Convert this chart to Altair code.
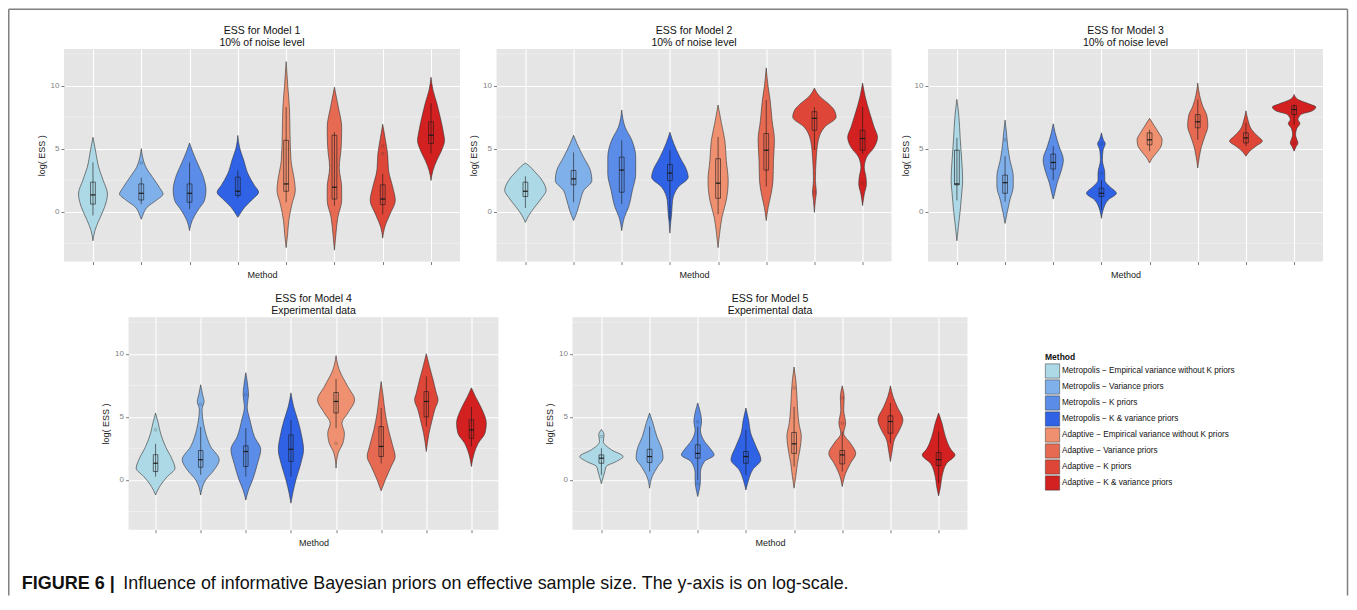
import altair as alt
import pandas as pd

FONT = "Liberation Sans"

METHODS = [
    "Metropolis − Empirical variance without K priors",
    "Metropolis − Variance priors",
    "Metropolis − K priors",
    "Metropolis − K & variance priors",
    "Adaptive − Empirical variance without K priors",
    "Adaptive − Variance priors",
    "Adaptive − K priors",
    "Adaptive − K & variance priors",
]
COLORS = ["#ADD8E6", "#80B0EA", "#5B8DE8", "#2F62E5",
          "#EF9070", "#E66A52", "#DE4638", "#D32020"]

TITLES = [
    ["ESS for Model 1", "10% of noise level"],
    ["ESS for Model 2", "10% of noise level"],
    ["ESS for Model 3", "10% of noise level"],
    ["ESS for Model 4", "Experimental data"],
    ["ESS for Model 5", "Experimental data"],
]
Y_TICKS = [0, 5, 10]
MINOR_Y = [-2.5, 2.5, 7.5, 12.5]
X_TICKS = [1, 2, 3, 4, 5, 6, 7, 8]

# ---- Model 1: violin profiles (log ESS level, half width in category units)
P1_Y = [
    [5.9, 4.9, 3.5, 2.5, 1.4, 0.35, -0.7, -1.5, -2.3],
    [5.0, 4.3, 3.5, 2.7, 1.9, 1.4, 0.9, 0.35, -0.2, -0.6],
    [5.45, 4.7, 3.8, 2.7, 1.7, 0.9, 0.1, -0.7, -1.5],
    [6.05, 5.1, 4.1, 3.0, 2.1, 1.55, 1.0, 0.35, -0.2, -0.45],
    [11.9, 9.9, 8.1, 6.2, 4.1, 2.5, 1.7, 0.6, -0.7, -1.8, -2.85],
    [9.87, 8.3, 6.7, 5.1, 3.5, 1.9, 0.9, -0.45, -1.8, -3.05],
    [6.94, 5.7, 4.6, 3.3, 1.9, 0.9, -0.2, -1.25, -2.1],
    [10.66, 9.65, 8.6, 7.5, 6.2, 5.66, 4.87, 4.07, 3.27, 2.47],
]
P1_W = [
    [0, 0.05, 0.12, 0.21, 0.30, 0.24, 0.12, 0.04, 0],
    [0, 0.03, 0.10, 0.24, 0.38, 0.45, 0.31, 0.12, 0.04, 0],
    [0, 0.07, 0.17, 0.29, 0.34, 0.31, 0.17, 0.055, 0],
    [0, 0.035, 0.12, 0.21, 0.34, 0.43, 0.31, 0.14, 0.04, 0],
    [0, 0.035, 0.07, 0.08, 0.10, 0.17, 0.19, 0.12, 0.055, 0.03, 0],
    [0, 0.08, 0.15, 0.14, 0.10, 0.15, 0.15, 0.07, 0.03, 0],
    [0, 0.055, 0.10, 0.12, 0.21, 0.26, 0.15, 0.04, 0],
    [0, 0.04, 0.12, 0.19, 0.26, 0.28, 0.22, 0.12, 0.04, 0],
]
# box: whisker low, q1, median, q3, whisker high
P1_BOX = [
    [-0.3, 0.6, 1.33, 2.34, 3.9], [0.6, 0.93, 1.46, 2.2, 2.7],
    [0.2, 0.75, 1.46, 2.2, 3.9], [1.1, 1.28, 1.62, 2.74, 3.27],
    [0.75, 1.62, 2.2, 5.66, 8.3], [0.48, 1.0, 1.94, 6.06, 6.3],
    [-0.2, 0.56, 1.0, 2.13, 3.0], [4.6, 5.4, 6.06, 7.13, 8.6],
]
P1_OUT_M = [2, 7, 7]
P1_OUT_Y = [3.86, 4.6, 5.2]

# ---- Model 2
P2_Y = [
    [3.86, 3.6, 3.27, 2.47, 1.68, 1.14, 0.35, -0.3, -0.85],
    [6.06, 5.4, 4.3, 3.27, 2.47, 1.68, 0.9, 0.08, -0.7],
    [8.06, 6.7, 5.66, 4.3, 3.0, 1.68, 0.35, -0.45, -1.5],
    [6.3, 5.4, 4.3, 3.27, 2.74, 1.94, 0.9, -0.2, -0.7, -1.7],
    [8.46, 7.0, 5.66, 4.07, 2.47, 0.9, -0.45, -1.8, -2.85],
    [11.4, 9.9, 8.86, 7.26, 5.66, 4.07, 2.47, 1.4, 0.35, -0.7],
    [9.8, 9.1, 8.6, 8.06, 7.5, 6.7, 5.66, 4.07, 2.47, 1.54, 0.9, -0.05],
    [10.2, 9.1, 7.8, 6.7, 5.9, 5.1, 4.3, 3.5, 2.74, 2.2, 1.4, 0.48],
]
P2_W = [
    [0, 0.09, 0.17, 0.35, 0.43, 0.35, 0.19, 0.07, 0],
    [0, 0.07, 0.21, 0.35, 0.38, 0.21, 0.14, 0.08, 0],
    [0, 0.07, 0.21, 0.29, 0.29, 0.22, 0.14, 0.055, 0],
    [0, 0.08, 0.21, 0.35, 0.38, 0.17, 0.055, 0.035, 0.02, 0],
    [0, 0.07, 0.14, 0.17, 0.21, 0.17, 0.08, 0.03, 0],
    [0, 0.04, 0.08, 0.12, 0.17, 0.15, 0.14, 0.10, 0.04, 0],
    [0, 0.12, 0.28, 0.41, 0.45, 0.21, 0.08, 0.035, 0.02, 0.04, 0.02, 0],
    [0, 0.055, 0.15, 0.24, 0.31, 0.24, 0.08, 0.035, 0.07, 0.08, 0.035, 0],
]
P2_BOX = [
    [0.3, 1.2, 1.62, 2.34, 2.8], [0.75, 2.13, 2.6, 3.27, 4.7],
    [0.6, 1.54, 3.3, 4.33, 5.66], [-0.7, 2.47, 3.06, 3.75, 4.87],
    [-0.2, 1.06, 2.26, 4.2, 5.93], [2.0, 3.3, 4.87, 6.2, 8.86],
    [4.9, 6.46, 7.4, 7.93, 8.3], [4.6, 4.87, 5.8, 6.46, 8.3],
]
P2_OUT_M = [7, 8]
P2_OUT_Y = [1.54, 2.26]

# ---- Model 3
P3_Y = [
    [8.9, 7.6, 5.7, 4.1, 2.5, 1.46, 0.13, -1.2, -2.3],
    [7.26, 6.25, 5.2, 4.1, 2.8, 2.0, 0.93, -0.13, -0.93],
    [6.97, 6.25, 5.2, 4.1, 3.3, 2.26, 1.46, 1.0],
    [6.25, 5.7, 5.4, 4.9, 4.1, 3.06, 2.5, 2.0, 1.46, 0.93, 0.13, -0.53],
    [7.4, 6.8, 6.25, 5.7, 5.2, 4.65, 4.25, 3.86],
    [10.2, 9.2, 8.4, 7.6, 6.8, 6.0, 5.2, 4.4, 3.46],
    [8.0, 7.3, 6.5, 6.0, 5.6, 5.2, 4.8, 4.4],
    [9.3, 8.9, 8.55, 8.3, 8.0, 7.7, 7.3, 7.0, 6.6, 6.1, 5.75, 5.45, 5.15, 4.8],
]
P3_W = [
    [0, 0.04, 0.07, 0.10, 0.12, 0.10, 0.07, 0.03, 0],
    [0, 0.03, 0.055, 0.10, 0.17, 0.17, 0.10, 0.04, 0],
    [0, 0.04, 0.12, 0.21, 0.17, 0.08, 0.03, 0],
    [0, 0.04, 0.08, 0.035, 0.02, 0.07, 0.07, 0.17, 0.31, 0.14, 0.035, 0],
    [0, 0.10, 0.19, 0.26, 0.24, 0.14, 0.055, 0],
    [0, 0.04, 0.10, 0.19, 0.21, 0.15, 0.08, 0.035, 0],
    [0, 0.04, 0.12, 0.24, 0.34, 0.21, 0.08, 0],
    [0, 0.08, 0.31, 0.45, 0.38, 0.14, 0.08, 0.12, 0.055, 0.03, 0.055, 0.08, 0.04, 0],
]
P3_BOX = [
    [0.9, 2.13, 2.2, 4.87, 5.85], [0.8, 1.46, 2.3, 2.9, 4.4],
    [2.5, 3.38, 3.9, 4.57, 5.2], [0.13, 1.2, 1.46, 1.86, 2.5],
    [4.8, 5.3, 5.7, 6.25, 6.5], [5.7, 6.65, 7.13, 7.7, 8.9],
    [5.2, 5.45, 5.85, 6.25, 7.05], [6.9, 7.7, 8.1, 8.4, 8.5],
]
P3_OUT_M = [2, 4, 4, 8]
P3_OUT_Y = [5.7, 5.4, 3.06, 5.45]

# ---- Model 4
P4_Y = [
    [5.3, 4.5, 3.7, 2.65, 1.6, 0.93, 0.26, -0.53, -1.2],
    [7.54, 6.8, 6.2, 5.6, 5.0, 4.0, 2.65, 1.6, 0.8, 0.0, -1.2],
    [8.5, 7.4, 6.75, 5.8, 4.76, 3.44, 2.4, 1.32, 0.0, -0.8, -1.6],
    [6.9, 5.8, 4.76, 3.44, 2.4, 1.32, 0.0, -1.06, -1.85],
    [9.85, 8.73, 7.4, 6.35, 5.3, 4.5, 3.7, 2.9, 2.1, 0.93],
    [7.8, 6.6, 5.3, 4.0, 2.65, 1.85, 1.06, 0.0, -0.87],
    [10.0, 9.0, 7.94, 6.9, 6.35, 5.55, 4.76, 3.7, 2.25],
    [7.3, 6.6, 5.55, 4.5, 3.7, 2.9, 2.1, 1.06],
]
P4_W = [
    [0, 0.06, 0.11, 0.22, 0.37, 0.43, 0.26, 0.09, 0],
    [0, 0.04, 0.075, 0.03, 0.04, 0.09, 0.22, 0.41, 0.30, 0.11, 0],
    [0, 0.045, 0.06, 0.03, 0.09, 0.19, 0.33, 0.26, 0.15, 0.06, 0],
    [0, 0.06, 0.15, 0.24, 0.28, 0.22, 0.11, 0.04, 0],
    [0, 0.07, 0.26, 0.41, 0.26, 0.13, 0.185, 0.15, 0.045, 0],
    [0, 0.045, 0.09, 0.16, 0.26, 0.31, 0.22, 0.09, 0],
    [0, 0.07, 0.15, 0.22, 0.26, 0.185, 0.13, 0.06, 0],
    [0, 0.09, 0.24, 0.33, 0.30, 0.15, 0.06, 0],
]
P4_BOX = [
    [0.26, 0.66, 1.32, 2.0, 2.86], [0.4, 1.0, 1.6, 2.33, 4.2],
    [0.26, 1.06, 2.25, 2.7, 4.1], [0.26, 1.46, 2.43, 3.57, 4.76],
    [4.1, 5.3, 6.22, 6.93, 8.0], [1.3, 1.85, 2.65, 4.23, 5.7],
    [4.23, 5.0, 6.22, 7.0, 8.2], [2.65, 3.3, 3.97, 4.76, 5.8],
]
P4_OUT_M = [1, 2, 3, 5]
P4_OUT_Y = [3.97, 6.0, 6.75, 2.9]

# ---- Model 5
P5_Y = [
    [4.0, 3.57, 3.04, 2.38, 1.85, 1.46, 1.06, 0.66, 0.26, -0.3],
    [5.3, 4.5, 3.44, 2.38, 1.72, 1.06, 0.26, -0.66],
    [6.1, 5.0, 4.6, 3.97, 3.17, 2.38, 1.98, 1.46, 0.53, 0.0, -1.32],
    [5.7, 4.76, 3.7, 2.65, 1.6, 0.8, 0.0, -0.8],
    [8.95, 7.94, 6.9, 5.8, 4.5, 3.44, 2.38, 1.32, 0.26, -0.66],
    [7.46, 6.5, 5.55, 4.5, 3.7, 2.9, 2.1, 1.32, 0.53, -0.53],
    [7.46, 6.6, 5.8, 4.76, 3.97, 3.17, 2.38, 1.46],
    [5.3, 4.5, 3.44, 2.38, 1.98, 1.32, 0.26, -0.53, -1.27],
]
P5_W = [
    [0, 0.055, 0.04, 0.21, 0.45, 0.31, 0.10, 0.07, 0.04, 0],
    [0, 0.07, 0.15, 0.26, 0.28, 0.17, 0.055, 0],
    [0, 0.07, 0.08, 0.055, 0.12, 0.28, 0.34, 0.14, 0.055, 0.055, 0],
    [0, 0.055, 0.10, 0.21, 0.31, 0.14, 0.055, 0],
    [0, 0.035, 0.055, 0.07, 0.10, 0.15, 0.12, 0.07, 0.035, 0],
    [0, 0.04, 0.03, 0.07, 0.03, 0.17, 0.28, 0.17, 0.07, 0],
    [0, 0.055, 0.14, 0.26, 0.19, 0.08, 0.04, 0],
    [0, 0.07, 0.14, 0.26, 0.34, 0.17, 0.07, 0.04, 0],
]
P5_BOX = [
    [0.4, 1.32, 1.72, 1.98, 2.5], [0.66, 1.38, 1.85, 2.43, 4.23],
    [0.0, 1.72, 2.1, 2.78, 4.23], [0.4, 1.32, 1.85, 2.25, 3.97],
    [1.06, 2.1, 2.86, 3.76, 5.8], [0.66, 1.27, 1.98, 2.33, 3.84],
    [2.9, 3.7, 4.63, 5.08, 6.1], [-0.26, 1.14, 1.6, 2.17, 3.84],
]
P5_OUT_M = [1, 3, 3, 5, 6, 6]
P5_OUT_Y = [3.44, 4.6, -0.3, 7.3, 6.5, 4.5]

CAPTION_BOLD = "FIGURE 6 |"
CAPTION_TEXT = ("Influence of informative Bayesian priors on effective sample size. "
                "The y-axis is on log-scale.")

# ---------------- layout (pixels) ----------------
PANEL_H = 212.5
BOX_HALF = 0.05
GRAY_BG = "#E5E5E5"
FRAME_COLOR = "#808080"
COL_GAP = 36.5
ROW_STEP = 268.2

XS = alt.Scale(domain=[0.4, 8.6], nice=False, zero=False)
YS = alt.Scale(domain=[-3.95, 12.9], nice=False, zero=False)


def x_axis():
    return alt.Axis(values=X_TICKS, labels=False, title="Method", grid=True,
                    domain=False, tickSize=3, titlePadding=5)


def y_axis():
    return alt.Axis(values=Y_TICKS, title="log( ESS )", grid=True, domain=False,
                    tickSize=3, labelPadding=2, titlePadding=4)


def violin_frame(ys_list, ws_list):
    rows = []
    for i, (ys, ws) in enumerate(zip(ys_list, ws_list)):
        for y, w in zip(ys, ws):
            rows.append({"m": i + 1, "Method": METHODS[i], "y": y,
                         "xl": i + 1 - w, "xr": i + 1 + w})
    return pd.DataFrame(rows)


def box_frame(boxes):
    rows = []
    for i, b in enumerate(boxes):
        rows.append({"m": i + 1, "lo": b[0], "q1": b[1], "med": b[2],
                     "q3": b[3], "hi": b[4],
                     "bl": i + 1 - BOX_HALF, "br": i + 1 + BOX_HALF})
    return pd.DataFrame(rows)


def panel(ys, ws, boxes, out_m, out_y, title, width):
    vdf = violin_frame(ys, ws)
    bdf = box_frame(boxes)
    odf = pd.DataFrame({"m": out_m, "y": out_y})

    minor = alt.Chart(pd.DataFrame({"v": MINOR_Y})).mark_rule(
        color="white", strokeWidth=0.5, opacity=0.75
    ).encode(y=alt.Y("v:Q", scale=YS, axis=y_axis()))
    violins = alt.Chart(vdf).mark_area(
        orient="horizontal", interpolate="monotone",
        stroke="#333333", strokeWidth=0.6, opacity=1
    ).encode(
        y=alt.Y("y:Q", scale=YS, axis=y_axis()),
        x=alt.X("xl:Q", scale=XS, axis=x_axis()),
        x2="xr:Q",
        color=alt.Color("Method:N", scale=alt.Scale(domain=METHODS, range=COLORS),
                        legend=alt.Legend(
                            title="Method", orient="none",
                            legendX=981, legendY=303.5, rowPadding=-4.4,
                            symbolSize=204, titlePadding=2.5)),
        detail="m:Q",
    )
    whisk = alt.Chart(bdf).mark_rule(color="#1a1a1a", strokeWidth=0.6).encode(
        x=alt.X("m:Q", scale=XS, axis=x_axis()),
        y=alt.Y("lo:Q", scale=YS, axis=y_axis()), y2="hi:Q")
    box = alt.Chart(bdf).mark_rect(
        fillOpacity=0, stroke="#1a1a1a", strokeWidth=0.6).encode(
        x=alt.X("bl:Q", scale=XS, axis=x_axis()), x2="br:Q",
        y=alt.Y("q1:Q", scale=YS, axis=y_axis()), y2="q3:Q")
    med = alt.Chart(bdf).mark_rule(color="#1a1a1a", strokeWidth=1.2).encode(
        x=alt.X("bl:Q", scale=XS, axis=x_axis()), x2="br:Q",
        y=alt.Y("med:Q", scale=YS, axis=y_axis()))
    outl = alt.Chart(odf).mark_point(
        shape="circle", size=7, filled=False, color="#333333", strokeWidth=0.4
    ).encode(x=alt.X("m:Q", scale=XS, axis=x_axis()),
             y=alt.Y("y:Q", scale=YS, axis=y_axis()))

    return alt.layer(minor, violins, whisk, box, med, outl).properties(
        width=width, height=PANEL_H,
        title=alt.TitleParams(text=title, fontSize=10.5, fontWeight="normal",
                              lineHeight=12, offset=0.5, anchor="middle",
                              color="#111111", font=FONT),
        view=alt.ViewBackground(fill=GRAY_BG, strokeWidth=0),
    )


dummy = pd.DataFrame({"d": [0]})


def spacer(w):
    return alt.Chart(dummy).mark_point(opacity=0, size=1).properties(width=w, height=1)


p1 = panel(P1_Y, P1_W, P1_BOX, P1_OUT_M, P1_OUT_Y, TITLES[0], 396)
p2 = panel(P2_Y, P2_W, P2_BOX, P2_OUT_M, P2_OUT_Y, TITLES[1], 395)
p3 = panel(P3_Y, P3_W, P3_BOX, P3_OUT_M, P3_OUT_Y, TITLES[2], 395)
p4 = panel(P4_Y, P4_W, P4_BOX, P4_OUT_M, P4_OUT_Y, TITLES[3], 370)
p5 = panel(P5_Y, P5_W, P5_BOX, P5_OUT_M, P5_OUT_Y, TITLES[4], 395)

row1 = alt.hconcat(p1, p2, p3, spacing=COL_GAP, bounds="flush")
row2 = alt.hconcat(spacer(27.8), p4, spacer(0.4), p5, spacing=COL_GAP, bounds="flush")

# caption + outer frame (drawn from the caption cell, origin below panel 1)
cap = alt.Chart(dummy)
CAP_Y = -1.9
cap_bold = cap.mark_text(text=CAPTION_BOLD, font=FONT, fontSize=18, fontWeight="bold",
                         align="left", baseline="middle", color="#111111").encode(
    x=alt.value(-42.3), y=alt.value(CAP_Y))
cap_text = cap.mark_text(text=CAPTION_TEXT, font=FONT, fontSize=17.9,
                         align="left", baseline="middle", color="#111111").encode(
    x=alt.value(59.3), y=alt.value(CAP_Y))
FL, FR, FT, FB = -55.25, 1283.5, -576.15, 10.1
frame_l = cap.mark_rule(color=FRAME_COLOR, strokeWidth=1.5).encode(
    x=alt.value(FL), y=alt.value(FT), y2=alt.value(FB))
frame_r = cap.mark_rule(color=FRAME_COLOR, strokeWidth=1.5).encode(
    x=alt.value(FR), y=alt.value(FT), y2=alt.value(FB))
frame_t = cap.mark_rule(color=FRAME_COLOR, strokeWidth=1.5).encode(
    x=alt.value(FL), x2=alt.value(FR), y=alt.value(FT))
caption = alt.layer(frame_l, frame_r, frame_t, cap_bold, cap_text).properties(
    width=1, height=10)

chart = alt.vconcat(
    row1, row2, caption, spacing=ROW_STEP, bounds="flush"
).resolve_scale(color="shared").properties(padding=0).configure(
    font=FONT
).configure_view(strokeWidth=0).configure_axis(
    gridColor="white", gridWidth=1.1, tickColor="#7f7f7f", labelColor="#7f7f7f",
    labelFontSize=8, titleFontSize=9, titleFontWeight="normal", titleColor="#222222",
    labelFont=FONT, titleFont=FONT,
).configure_legend(
    titleFontSize=8.5, titleFontWeight="bold", titleColor="#111111",
    labelFontSize=8.2, labelColor="#111111", labelLimit=400,
    symbolType="square", symbolStrokeColor="#333333",
    symbolStrokeWidth=0.5, symbolOpacity=1, labelOffset=2, padding=0,
)

chart.save("out.html", embed_options={"renderer": "svg", "actions": False})
